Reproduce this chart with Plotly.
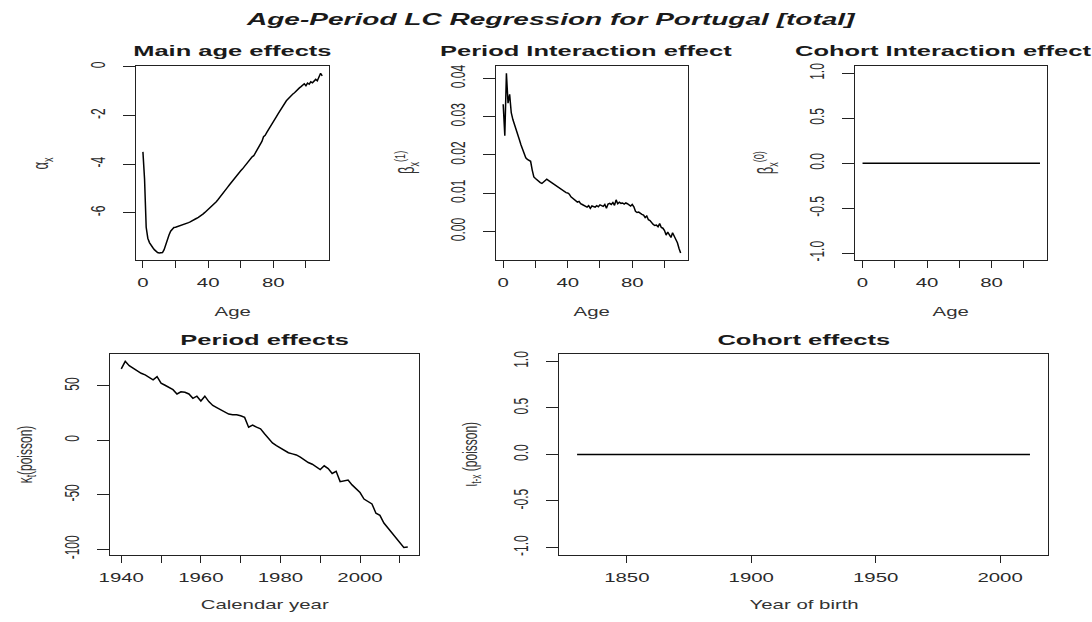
import plotly.graph_objects as go

W, H = 1092, 622

# ---------------- data ----------------
ages = list(range(0, 111))

alpha_x = [
    -3.50, -4.62, -6.60, -7.05, -7.23, -7.35, -7.43, -7.52, -7.60, -7.64,
    -7.66, -7.66, -7.64, -7.52, -7.30, -7.10, -6.92, -6.76, -6.66, -6.61,
    -6.60, -6.58, -6.56, -6.54, -6.51, -6.49, -6.46, -6.43, -6.41, -6.38,
    -6.35, -6.32, -6.28, -6.23, -6.19, -6.15, -6.10, -6.05, -5.99, -5.93,
    -5.88, -5.82, -5.75, -5.69, -5.62, -5.55, -5.47, -5.39, -5.31, -5.22,
    -5.13, -5.04, -4.95, -4.86, -4.77, -4.68, -4.60, -4.52, -4.43, -4.35,
    -4.28, -4.21, -4.12, -4.04, -3.96, -3.88, -3.80, -3.70, -3.66, -3.55,
    -3.45, -3.33, -3.21, -3.07, -2.88, -2.82, -2.70, -2.58, -2.47, -2.36,
    -2.25, -2.15, -2.04, -1.93, -1.82, -1.71, -1.59, -1.48, -1.40, -1.33,
    -1.25, -1.19, -1.12, -1.07, -0.99, -0.93, -0.87, -0.82, -0.76, -0.70,
    -0.78, -0.67, -0.72, -0.62, -0.66, -0.58, -0.52, -0.58, -0.45, -0.27,
    -0.38,
]

beta1_x = [
    0.0332, 0.0250, 0.0413, 0.0335, 0.0358, 0.0310, 0.0292, 0.0280, 0.0266, 0.0252,
    0.0240, 0.0226, 0.0214, 0.0200, 0.0192, 0.0188, 0.0186, 0.0183, 0.0160, 0.0142,
    0.0138, 0.0134, 0.0130, 0.0127, 0.0125, 0.0129, 0.0133, 0.0136, 0.0133, 0.0130,
    0.0128, 0.0125, 0.0121, 0.0120, 0.0116, 0.0112, 0.0110, 0.0106, 0.0104, 0.0101,
    0.0100, 0.0097, 0.0090, 0.0086, 0.0084, 0.0080, 0.0076, 0.0078, 0.0072, 0.0070,
    0.0068, 0.0066, 0.0063, 0.0067, 0.0060, 0.0066, 0.0065, 0.0063, 0.0067, 0.0064,
    0.0069, 0.0066, 0.0065, 0.0070, 0.0060, 0.0071, 0.0073, 0.0070, 0.0075, 0.0068,
    0.0082, 0.0072, 0.0076, 0.0073, 0.0074, 0.0071, 0.0074, 0.0072, 0.0070, 0.0066,
    0.0070, 0.0064, 0.0052, 0.0049, 0.0050, 0.0046, 0.0044, 0.0042, 0.0036, 0.0040,
    0.0030, 0.0028, 0.0022, 0.0018, 0.0015, 0.0016, 0.0012, 0.0020, 0.0010, 0.0008,
    0.0002, -0.0010, -0.0002, -0.0008, -0.0016, -0.0004, -0.0012, -0.0018, -0.0030, -0.0045,
    -0.0057,
]

beta0_x = [0.0] * len(ages)

years = list(range(1940, 2013))
kappa_t = [
    65.5, 72.5, 68.5, 66.0, 63.5, 61.5, 60.0, 58.0, 55.5, 58.5,      # 1940-1949
    52.5, 50.5, 48.5, 46.5, 42.5, 44.5, 44.0, 42.5, 38.5, 40.5,      # 1950-1959
    36.0, 40.5, 35.5, 32.0, 30.0, 28.0, 26.5, 24.0, 23.5, 23.5,      # 1960-1969
    22.5, 21.0, 12.0, 14.0, 12.0, 10.5, 6.0, 1.5, -2.5, -5.0,        # 1970-1979
    -7.0, -9.0, -11.5, -12.5, -13.5, -15.5, -18.0, -20.5, -22.0, -24.5,  # 1980-1989
    -27.0, -23.5, -26.0, -30.5, -28.5, -38.0, -37.5, -36.5, -41.0, -44.5,  # 1990-1999
    -48.0, -54.0, -56.5, -58.5, -67.0, -69.0, -76.0, -80.5, -85.5, -90.5,  # 2000-2009
    -95.0, -98.5, -98.0,                                              # 2010-2012
]

cohorts = list(range(1830, 2013))
iota_c = [0.0] * len(cohorts)

# tick definitions: labelled ticks, plus unlabelled tick spacing
age_tickvals = [0, 40, 80]
age_ticktext = ["0", "40", "80"]
age_minor_step = 20
alpha_tickvals = [-6, -4, -2, 0]
alpha_ticktext = ["-6", "-4", "-2", "0"]
beta1_tickvals = [0.0, 0.01, 0.02, 0.03, 0.04]
beta1_ticktext = ["0.00", "0.01", "0.02", "0.03", "0.04"]
unit_tickvals = [-1.0, -0.5, 0.0, 0.5, 1.0]
unit_ticktext = ["-1.0", "-0.5", "0.0", "0.5", "1.0"]
kappa_tickvals = [-100, -50, 0, 50]
kappa_ticktext = ["-100", "-50", "0", "50"]
year_tickvals = [1940, 1960, 1980, 2000]
year_ticktext = ["1940", "1960", "1980", "2000"]
year_minor_step = 10
coh_tickvals = [1850, 1900, 1950, 2000]
coh_ticktext = ["1850", "1900", "1950", "2000"]

main_title = "Age-Period LC Regression for Portugal [total]"

# ---------------- helpers ----------------
FONT = "Liberation Sans, Arial, Helvetica, sans-serif"
INK = "#1a1a1a"
TICKINK = "#2a2a2a"


def rrange(v):
    lo, hi = min(v), max(v)
    if hi == lo:
        lo, hi = lo - 1.0, hi + 1.0
    d = (hi - lo) * 0.04
    return [lo - d, hi + d]


def px(x):
    return x / W


def py(y):
    return 1 - y / H


# panel frames in pixels: (left, right, top, bottom)
panels = [
    dict(x=ages, y=alpha_x, frame=(134, 328, 62, 259),
         xt=(age_tickvals, age_ticktext, age_minor_step), yt=(alpha_tickvals, alpha_ticktext)),
    dict(x=ages, y=beta1_x, frame=(495, 687, 62, 259),
         xt=(age_tickvals, age_ticktext, age_minor_step), yt=(beta1_tickvals, beta1_ticktext)),
    dict(x=ages, y=beta0_x, frame=(855, 1047, 62, 259),
         xt=(age_tickvals, age_ticktext, age_minor_step), yt=(unit_tickvals, unit_ticktext)),
    dict(x=years, y=kappa_t, frame=(108, 418, 354, 558),
         xt=(year_tickvals, year_ticktext, year_minor_step), yt=(kappa_tickvals, kappa_ticktext)),
    dict(x=cohorts, y=iota_c, frame=(558, 1048, 354, 558),
         xt=(coh_tickvals, coh_ticktext, None), yt=(unit_tickvals, unit_ticktext)),
]

fig = go.Figure()
layout = dict(
    width=W, height=H,
    margin=dict(l=0, r=0, t=0, b=0),
    paper_bgcolor="white", plot_bgcolor="white",
    showlegend=False,
    font=dict(family=FONT, color=INK),
)

for i, p in enumerate(panels, start=1):
    l, r, t, b = p["frame"]
    xa = "x" if i == 1 else f"x{i}"
    ya = "y" if i == 1 else f"y{i}"
    fig.add_trace(go.Scatter(
        x=p["x"], y=p["y"], mode="lines",
        line=dict(color="black", width=1.5),
        xaxis=xa, yaxis=ya, hoverinfo="skip",
    ))
    common = dict(
        showline=True, mirror=True, linecolor="#222", linewidth=1.4,
        showgrid=False, zeroline=False, ticks="outside",
        tickwidth=1.2, tickcolor="#222",
        tickfont=dict(family=FONT, size=12, color=TICKINK),
    )
    xdef = dict(
        common, domain=[px(l), px(r)], anchor=ya, range=rrange(p["x"]),
        tickmode="array", tickvals=p["xt"][0], ticktext=p["xt"][1],
        ticklen=7, ticklabelstandoff=4,
    )
    if p["xt"][2]:
        xdef["minor"] = dict(ticks="outside", tick0=p["xt"][0][0], dtick=p["xt"][2],
                             ticklen=7, tickwidth=1.2, tickcolor="#222", showgrid=False)
    layout["xaxis" if i == 1 else f"xaxis{i}"] = xdef
    layout["yaxis" if i == 1 else f"yaxis{i}"] = dict(
        common, domain=[py(b), py(t)], anchor=xa, range=rrange(p["y"]),
        tickmode="array", tickvals=p["yt"][0], ticktext=p["yt"][1],
        ticklen=12, tickangle=-90, ticklabelstandoff=13,
    )

ann = []


def add_text(text, x, y, size, bold=False, italic=False, angle=0, xanchor="center", color=INK):
    t = text
    if bold:
        t = f"<b>{t}</b>"
    if italic:
        t = f"<i>{t}</i>"
    ann.append(dict(
        text=t, x=px(x), y=py(y), xref="paper", yref="paper",
        xanchor=xanchor, yanchor="middle", showarrow=False,
        textangle=angle, align="left" if xanchor == "left" else "center",
        font=dict(family=FONT, size=size, color=color),
    ))


add_text(main_title, 550, 14, 16.5, bold=True, italic=True)
add_text("Main age effects", 231, 46, 15, bold=True)
add_text("Period Interaction effect", 437, 46, 15, bold=True, xanchor="left")
add_text("Cohort Interaction effect", 792, 46, 15, bold=True, xanchor="left")
add_text("Period effects", 263, 339, 15, bold=True)
add_text("Cohort effects", 803, 339, 15, bold=True)

add_text("Age", 231, 311, 12, color="#333")
add_text("Age", 591, 311, 12, color="#333")
add_text("Age", 951, 311, 12, color="#333")
add_text("Calendar year", 263, 609, 12, color="#333")
add_text("Year of birth", 803, 609, 12, color="#333")

add_text("α<sub>x</sub>", 43, 160, 13, angle=-90, color="#333")
add_text("β<sub>x</sub><sup>(1)</sup>", 408, 160, 13, angle=-90, color="#333")
add_text("β<sub>x</sub><sup>(0)</sup>", 768, 160, 13, angle=-90, color="#333")
add_text("κ<sub>t</sub>(poisson)", 27, 456, 12, angle=-90, color="#333")
add_text("ι<sub>t-x</sub> (poisson)", 473, 456, 12, angle=-90, color="#333")

layout["annotations"] = ann
fig.update_layout(**layout)

# The reference image is horizontally stretched (~1.7x); reproduce that on text.
# Empty placeholder text nodes that plotly creates are dropped.
stretch_js = """
(function(){
  var gd = document.getElementById('{plot_id}');
  var S = 1.7;
  gd.querySelectorAll('svg text').forEach(function(el){
    if (!el.textContent || !el.textContent.trim()) { el.parentNode.removeChild(el); return; }
    var svg = el.ownerSVGElement;
    var P = el.parentNode.getCTM ? el.parentNode.getCTM() : null;
    if (!P) return;
    var Lc = el.transform.baseVal.consolidate();
    var L = Lc ? Lc.matrix : svg.createSVGMatrix();
    var x = parseFloat(el.getAttribute('x')) || 0;
    var y = parseFloat(el.getAttribute('y')) || 0;
    var C = P.multiply(L);
    var ax = C.a*x + C.c*y + C.e, ay = C.b*x + C.d*y + C.f;
    var Sm = svg.createSVGMatrix().translate(ax, ay).scaleNonUniform(S, 1).translate(-ax, -ay);
    var N = P.inverse().multiply(Sm).multiply(C);
    el.setAttribute('transform', 'matrix(' + [N.a,N.b,N.c,N.d,N.e,N.f].join(',') + ')');
  });
})();
"""

fig.write_html("out.html", post_script=stretch_js, config={"displayModeBar": False})
